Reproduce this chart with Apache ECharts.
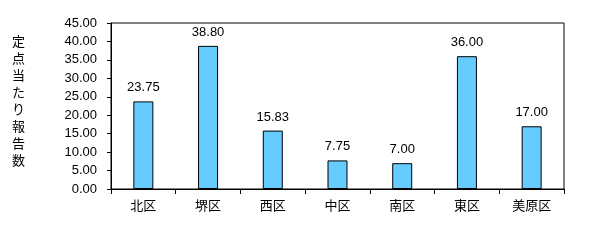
<!DOCTYPE html>
<html><head><meta charset="utf-8">
<script src="https://cdn.jsdelivr.net/npm/echarts@6/dist/echarts.min.js"></script>
<style>html,body{margin:0;padding:0;background:#fff}#c{width:590px;height:241px}</style>
</head><body><div id="c"></div>
<script>
var categories = ['北区','堺区','西区','中区','南区','東区','美原区'];
var values = [23.75, 38.80, 15.83, 7.75, 7.00, 36.00, 17.00];
var yTitle = '定点当たり報告数';
var font = '"Noto Sans CJK JP", "DejaVu Sans", sans-serif';
var numFont = 'Arial, "Liberation Sans", sans-serif';
var chart = echarts.init(document.getElementById('c'));
chart.setOption({
  animation: false,
  textStyle: {fontFamily: font},
  grid: {left: 111, top: 23, right: 26, bottom: 52, show: true, borderColor: '#000', borderWidth: 1},
  graphic: [{
    type: 'text', left: 12, top: 33,
    style: {text: yTitle.split('').join('\n'), font: '13px ' + font, lineHeight: 17, fill: '#000', textAlign: 'left'}
  }],
  xAxis: {
    type: 'category', data: categories,
    axisLine: {lineStyle: {color: '#000', width: 1}},
    axisTick: {show: true, length: 5, lineStyle: {color: '#000'}},
    axisLabel: {color: '#000', fontSize: 13, margin: 10, fontFamily: font}
  },
  yAxis: {
    type: 'value', min: 0, max: 45, interval: 5,
    axisLine: {show: true, lineStyle: {color: '#000', width: 1}},
    axisTick: {show: true, inside: false, length: 4, lineStyle: {color: '#000'}},
    splitLine: {show: false},
    axisLabel: {color: '#000', fontSize: 13, margin: 14, fontFamily: numFont,
      formatter: function (v) { return v.toFixed(2); }}
  },
  series: [{
    type: 'bar', data: values, barWidth: 20,
    itemStyle: {color: '#66CCFF', borderColor: '#000', borderWidth: 1},
    label: {show: true, position: 'top', distance: 7, color: '#000', fontSize: 13,
      fontFamily: numFont,
      formatter: function (p) { return p.value.toFixed(2); }}
  }]
});
</script></body></html>
